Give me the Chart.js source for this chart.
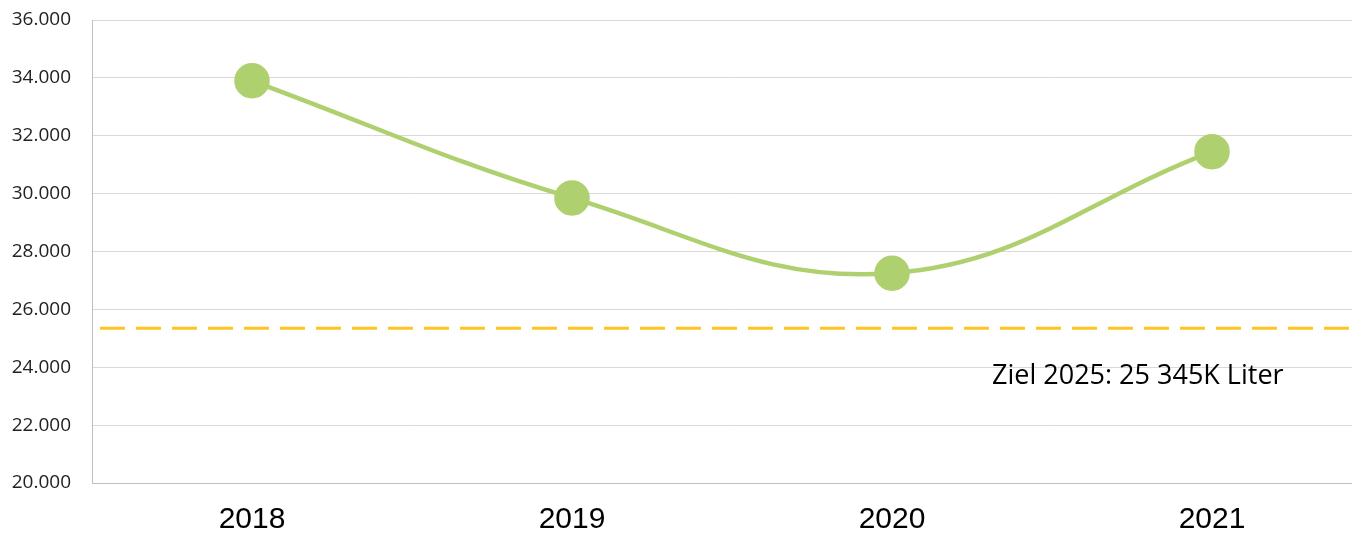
<!DOCTYPE html>
<html>
<head>
<meta charset="utf-8">
<script src="https://cdn.jsdelivr.net/npm/chart.js@4"></script>
<style>
  html, body { margin: 0; padding: 0; background: #fff; overflow: hidden; }
  #wrap { width: 1392px; height: 533px; }
</style>
</head>
<body>
<div id="wrap"><canvas id="chart"></canvas></div>
<script>
// Daten
const years = ["2018", "2019", "2020", "2021"];
const verbrauch = [33900, 29850, 27250, 31450];
const ziel = 25345;
const zielText = "Ziel 2025: 25 345K Liter";

// Ziellinie + Beschriftung
const zielPlugin = {
  id: "ziel",
  afterDatasetsDraw(chart) {
    const { ctx, chartArea, scales } = chart;
    const y = scales.y.getPixelForValue(ziel);
    ctx.save();
    ctx.strokeStyle = "#FFC420";
    ctx.lineWidth = 3;
    ctx.setLineDash([25, 11]);
    ctx.beginPath();
    ctx.moveTo(chartArea.left + 8, y);
    ctx.lineTo(chartArea.right, y);
    ctx.stroke();
    ctx.setLineDash([]);
    ctx.fillStyle = "#000";
    ctx.font = "27px 'Open Sans'";
    ctx.textBaseline = "alphabetic";
    ctx.fillText(zielText, chartArea.left + 900, y + 56);
    ctx.restore();
  }
};

new Chart(document.getElementById("chart"), {
  type: "line",
  data: {
    labels: years,
    datasets: [{
      data: verbrauch,
      borderColor: "#AFD06E",
      backgroundColor: "#AFD06E",
      borderWidth: 4.5,
      pointRadius: 15.5,
      pointHoverRadius: 15.5,
      tension: 0.4,
      fill: false
    }]
  },
  options: {
    responsive: true,
    maintainAspectRatio: false,
    animation: false,
    layout: { padding: { top: 20, left: 0, right: 0, bottom: 0 } },
    plugins: { legend: { display: false }, tooltip: { enabled: false } },
    scales: {
      x: {
        offset: true,
        grid: { display: false, drawTicks: false },
        border: { color: "#BFBFBF", width: 1 },
        ticks: { color: "#000", font: { family: "'Liberation Sans'", size: 30 }, padding: 19 },
        afterFit: s => { s.height = 50; }
      },
      y: {
        min: 20000,
        max: 36000,
        grid: { color: "#D9D9D9", drawTicks: false },
        border: { color: "#BFBFBF", width: 1 },
        afterFit: s => { s.width = 92; s.paddingTop = 0; s.paddingBottom = 0; },
        ticks: {
          stepSize: 2000,
          padding: 21,
          color: "#222",
          font: { family: "'Open Sans'", size: 19 },
          callback: v => v.toLocaleString("de-DE", { minimumFractionDigits: 0 }).replace(/^(\d+)(\d{3})$/, "$1.$2")
        }
      }
    }
  },
  plugins: [zielPlugin]
});
</script>
</body>
</html>
